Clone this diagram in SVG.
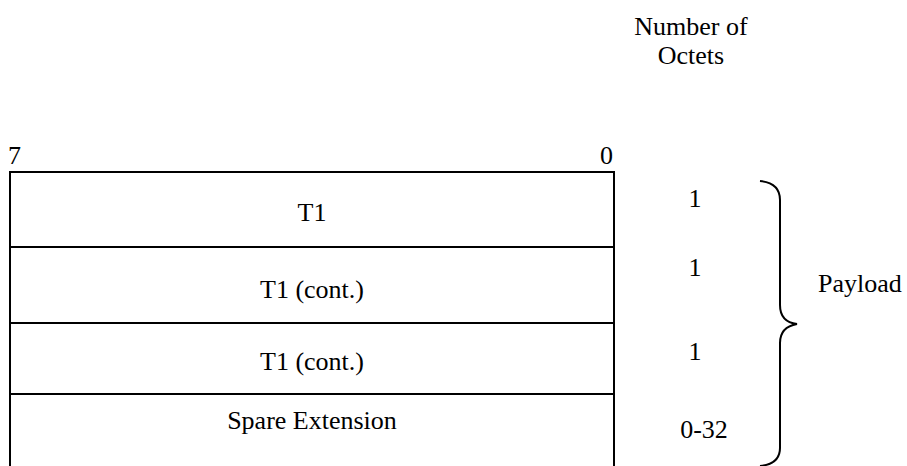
<svg xmlns="http://www.w3.org/2000/svg" width="907" height="466" viewBox="0 0 907 466">
<style>
text{font-family:"Liberation Serif","Times New Roman",serif;font-size:26px;fill:#000}
.c{text-anchor:middle}
.ln{stroke:#000;stroke-width:2;fill:none}
</style>
<rect width="907" height="466" fill="#fff"/>
<g id="header">
<text class="c" x="691" y="35">Number of</text>
<text class="c" x="691" y="64">Octets</text>
<text x="8" y="164">7</text>
<text x="600" y="164">0</text>
</g>
<g id="frame">
<path class="ln" d="M10,466 V172 H614 V466"/>
</g>
<g id="row1">
<line class="ln" x1="10" y1="247" x2="614" y2="247"/>
<text class="c" x="312" y="221">T1</text>
<text class="c" x="695" y="207">1</text>
</g>
<g id="row2">
<line class="ln" x1="10" y1="323" x2="614" y2="323"/>
<text class="c" x="312" y="298">T1 (cont.)</text>
<text class="c" x="695" y="276">1</text>
</g>
<g id="row3">
<line class="ln" x1="10" y1="394" x2="614" y2="394"/>
<text class="c" x="312" y="370">T1 (cont.)</text>
<text class="c" x="695" y="360">1</text>
</g>
<g id="row4">
<text class="c" x="312" y="429">Spare Extension</text>
<text class="c" x="704" y="438">0-32</text>
</g>
<g id="payload">
<path class="ln" stroke-width="1.5" d="M760,181 Q780,183 780,200 V305 Q780,322 797,324 Q780,327 780,343 V448 Q780,464 760,466"/>
<text x="818" y="292">Payload</text>
</g>
</svg>
